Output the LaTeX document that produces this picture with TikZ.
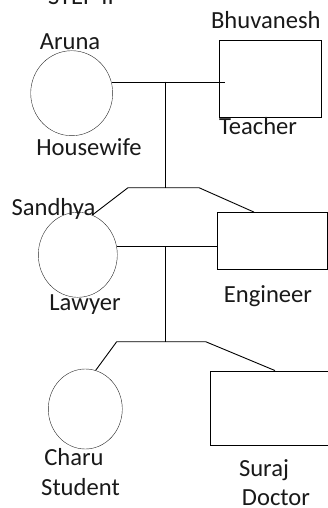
\documentclass[tikz,border=0pt]{standalone}
\usepackage{fontspec}
\setmainfont{Carlito}
\usetikzlibrary{shapes.geometric}
\begin{document}
\begin{tikzpicture}[x=1pt,y=-1pt,
  female/.style={draw=black!85, ellipse, inner sep=0pt},
  male/.style={draw, rectangle, inner sep=0pt},
  tag/.style={anchor=base, inner sep=0pt, text=black!90, font=\fontsize{24.6}{28}\selectfont},
  line/.style={draw, line width=0.9pt}]
\useasboundingbox (0,0) rectangle (328,508);
\node (step) [tag] at (81,4.7) {STEP II};
% first generation
\node (aruna)[female, minimum width=82pt, minimum height=85pt] at (71.7,93.2){};
\node (bhuvanesh)[male, minimum width=102pt, minimum height=76.6pt] at (270,79){};
\node (arunaname) [tag] at (70,50) {Aruna};
\node (arunajob) [tag] at (89,155) {Housewife};
\node (bhuvaneshname) [tag] at (265.8,28.3) {Bhuvanesh};
\node (bhuvaneshjob) [tag] at (258,135) {Teacher};
% second generation
\node (sandhya)[female, minimum width=79pt, minimum height=85pt] at (77.8,254.8){};
\node (engineer)[male, minimum width=110pt, minimum height=57pt] at (271.7,240.8){};
\node (sandhyaname) [tag] at (53.5,215) {Sandhya};
\node (sandhyajob) [tag] at (85,310) {Lawyer};
\node (engineerjob) [tag] at (268,302.7) {Engineer};
% third generation
\node (charu)[female, minimum width=74pt, minimum height=80pt] at (85.3,409){};
\node (suraj)[male, minimum width=122pt, minimum height=74.3pt] at (271,407.9){};
\node (charuname) [tag] at (74,465) {Charu};
\node (charujob) [tag] at (80.5,495) {Student};
\node (surajname) [tag] at (264,476.7) {Suraj};
\node (surajjob) [tag] at (276,505) {Doctor};
% couples and children
\coordinate (wed1) at (165.3,81.7);
\coordinate (kids1) at (165.3,187.7);
\coordinate (kids1left) at (128,187.7);
\coordinate (kids1right) at (199,187.7);
\coordinate (wed2) at (165.3,246);
\coordinate (kids2) at (165.3,341.7);
\coordinate (kids2left) at (116.7,341.7);
\coordinate (kids2right) at (205.7,341.7);
\draw [line](aruna.15)--([xshift=6pt]aruna.15 -| bhuvanesh.west);
\draw [line](wed1)--(kids1);
\draw [line](sandhya.70)--(kids1left)--(kids1right)--([xshift=-17.7pt]engineer.north);
\draw [line](sandhya.12)--(sandhya.12 -| engineer.west);
\draw [line](wed2)--(kids2);
\draw [line](charu.75)--(kids2left)--(kids2right)--([xshift=4pt]suraj.north);
\end{tikzpicture}
\end{document}
